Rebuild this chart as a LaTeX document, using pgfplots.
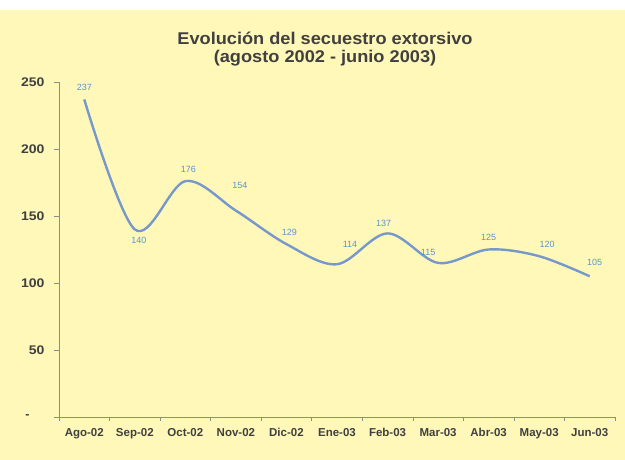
\documentclass[border=0pt]{standalone}
\usepackage{fontspec}
\setmainfont{Liberation Sans}
\usepackage{graphicx}
\usepackage{pgfplots}
\usepackage{pgfplotstable}
\pgfplotsset{compat=1.18}
\definecolor{bgyellow}{RGB}{255,248,184}
\definecolor{lineblue}{RGB}{118,152,204}
\definecolor{lblblue}{RGB}{88,148,212}
\definecolor{txtgray}{RGB}{64,64,64}
\definecolor{axgray}{RGB}{140,140,140}
\newcommand{\sx}[1]{\scalebox{1.12}[1]{#1}}

% month, value, label offsets (pt)
\pgfplotstableread{
x y lbl dx dy
0 237 237 0 12
1 140 140 4 -11
2 176 176 3 12
3 154 154 4 25
4 129 129 3 12
5 114 114 13 20
6 137 137 -4 10
7 115 115 -10 10
8 125 125 0 12
9 120 120 8 12
10 105 105 5 14
}\secuestro

\begin{document}
\begin{tikzpicture}[x=1pt,y=1pt]
\fill[bgyellow] (0,0) rectangle (625,450);
\fill[white] (0,450) rectangle (625,460);
\node[anchor=base, font=\bfseries\fontsize{17}{18}\selectfont, text=txtgray]
  at (325,415) {\scalebox{1.07}[1]{Evolución del secuestro extorsivo}};
\node[anchor=base, font=\bfseries\fontsize{17}{18}\selectfont, text=txtgray]
  at (325,397) {\scalebox{1.07}[1]{(agosto 2002 - junio 2003)}};
\begin{axis}[
  at={(59pt,43pt)}, anchor=south west,
  scale only axis, width=556pt, height=335pt,
  xmin=-0.5, xmax=10.5, ymin=0, ymax=250,
  axis lines*=left,
  axis line style={axgray, line width=0.8pt},
  xtick={0,...,10},
  xticklabels={Ago-02,Sep-02,Oct-02,Nov-02,Dic-02,Ene-03,Feb-03,Mar-03,Abr-03,May-03,Jun-03},
  major x tick style={draw=none},
  minor xtick={-0.5,0.5,...,10.5},
  minor tick length=4pt,
  minor x tick style={axgray, line width=0.6pt},
  ytick={0,50,...,250},
  yticklabels={{-\rule{15pt}{0pt}},\sx{50},\sx{100},\sx{150},\sx{200},\sx{250}},
  major tick length=5pt,
  y tick style={axgray, line width=0.6pt},
  tick align=outside,
  tick label style={font=\bfseries\fontsize{11.5}{12}\selectfont, text=txtgray},
  yticklabel style={xshift=-6pt, font=\bfseries\fontsize{12.5}{13}\selectfont},
  xticklabel style={yshift=-3pt},
  clip=false,
]
\addplot[lineblue, line width=2.4pt, smooth, tension=0.55] table[x=x, y=y] {\secuestro};
\addplot[draw=none, mark=none,
  nodes near coords, point meta=explicit symbolic,
  visualization depends on={\thisrow{dx} \as \lblx},
  visualization depends on={\thisrow{dy} \as \lbly},
  every node near coord/.style={font=\fontsize{9}{10}\selectfont, text=lblblue,
    anchor=center, xshift=\lblx pt, yshift=\lbly pt}]
  table[x=x, y=y, meta=lbl] {\secuestro};
\end{axis}
\end{tikzpicture}
\end{document}
